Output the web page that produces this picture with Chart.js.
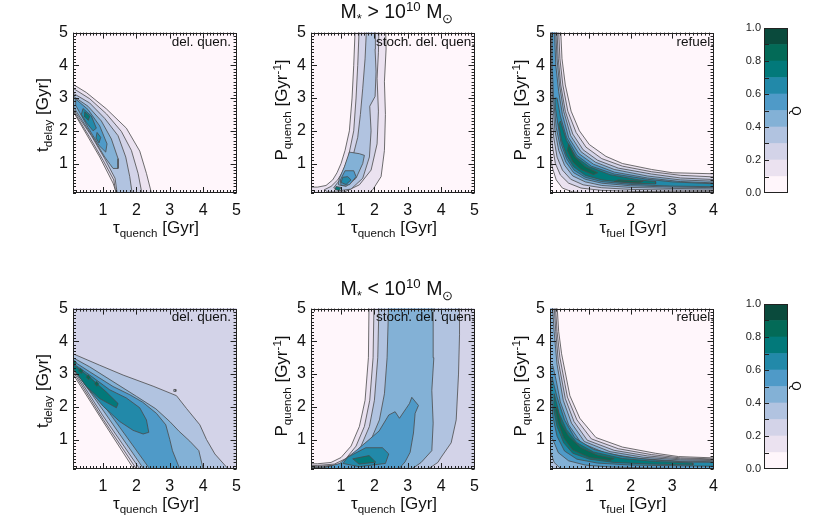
<!DOCTYPE html>
<html>
<head>
<meta charset="utf-8">
<script src="https://cdn.jsdelivr.net/npm/chart.js@4.4.1/dist/chart.umd.min.js"></script>
<style>
  body { margin: 0; background: #fff; width: 830px; height: 524px; position: relative; overflow: hidden;
         font-family: "Liberation Sans", Arial, sans-serif; color: #111; }
  canvas { position: absolute; }
  .lbl { position: absolute; white-space: nowrap; line-height: 1; }
  .c { transform: translate(-50%, -50%); }
  .r { transform: translate(-100%, -50%); }
  .rot { transform: translate(-50%, -50%) rotate(-90deg); }
  .rot90 { transform: translate(-50%, -50%) rotate(90deg); }
  .sb { font-size: 68%; position: relative; top: 0.38em; }
  .sp { font-size: 68%; position: relative; top: -0.55em; }
  .title { font-size: 19.5px; }
  .ax { font-size: 17px; }
  .tag { font-size: 13.5px; }
</style>
</head>
<body>
<canvas id="p1" width="220" height="209" style="left:29px;top:18px"></canvas>
<canvas id="p2" width="220" height="209" style="left:267px;top:18px"></canvas>
<canvas id="p3" width="220" height="209" style="left:506px;top:18px"></canvas>
<canvas id="p4" width="220" height="209" style="left:29px;top:294px"></canvas>
<canvas id="p5" width="220" height="209" style="left:267px;top:294px"></canvas>
<canvas id="p6" width="220" height="209" style="left:506px;top:294px"></canvas>
<canvas id="cb1" width="58" height="185" style="left:734px;top:18px"></canvas>
<canvas id="cb2" width="58" height="185" style="left:734px;top:294px"></canvas>

<div class="lbl c title" style="left:397px;top:12px">M<span class="sb">*</span> &gt; 10<span class="sp">10</span> M<span class="sb">⊙</span></div>
<div class="lbl c title" style="left:397px;top:289px">M<span class="sb">*</span> &lt; 10<span class="sp">10</span> M<span class="sb">⊙</span></div>

<div class="lbl c ax" style="left:156px;top:227px">τ<span class="sb">quench</span> [Gyr]</div>
<div class="lbl c ax" style="left:394px;top:227px">τ<span class="sb">quench</span> [Gyr]</div>
<div class="lbl c ax" style="left:633px;top:227px">τ<span class="sb">fuel</span> [Gyr]</div>
<div class="lbl c ax" style="left:156px;top:503px">τ<span class="sb">quench</span> [Gyr]</div>
<div class="lbl c ax" style="left:394px;top:503px">τ<span class="sb">quench</span> [Gyr]</div>
<div class="lbl c ax" style="left:633px;top:503px">τ<span class="sb">fuel</span> [Gyr]</div>

<div class="lbl rot ax" style="left:42px;top:115px">t<span class="sb">delay</span> [Gyr]</div>
<div class="lbl rot ax" style="left:281px;top:110px">P<span class="sb">quench</span> [Gyr<span class="sp">-1</span>]</div>
<div class="lbl rot ax" style="left:520px;top:110px">P<span class="sb">quench</span> [Gyr<span class="sp">-1</span>]</div>
<div class="lbl rot ax" style="left:42px;top:391px">t<span class="sb">delay</span> [Gyr]</div>
<div class="lbl rot ax" style="left:281px;top:386px">P<span class="sb">quench</span> [Gyr<span class="sp">-1</span>]</div>
<div class="lbl rot ax" style="left:520px;top:386px">P<span class="sb">quench</span> [Gyr<span class="sp">-1</span>]</div>

<div class="lbl r tag" style="left:231px;top:42px">del. quen.</div>
<div class="lbl r tag" style="left:475px;top:42px">stoch. del. quen.</div>
<div class="lbl r tag" style="left:714px;top:42px">refuel.</div>
<div class="lbl r tag" style="left:231px;top:317px">del. quen.</div>
<div class="lbl r tag" style="left:475px;top:317px">stoch. del. quen.</div>
<div class="lbl r tag" style="left:714px;top:317px">refuel.</div>

<div class="lbl rot90" style="left:796px;top:111px;font-size:12px">Q</div>
<div class="lbl rot90" style="left:796px;top:386px;font-size:12px">Q</div>

<script>
// colour of each Q level, 0.0-0.1 ... 0.9-1.0
const levelColors = ['#fff6fb', '#ebe2f0', '#d3d3e8', '#b1c3e0', '#83b1d6',
                     '#4f9ac8', '#2289a9', '#02797a', '#036a57', '#0a4a3c'];
const axisTicks = [1, 2, 3, 4, 5];
const fuelTicks = [1, 2, 3, 4];
const colorbarTicks = [0, 0.2, 0.4, 0.6, 0.8, 1.0];
const colorbarBands = [0.1, 0.1, 0.1, 0.1, 0.1, 0.1, 0.1, 0.1, 0.1, 0.1];

// contour polygons: [level, [[x, y], ...]]
// M* > 1e10, delayed quenching (tau_quench, t_delay)
const delayHi = [
  [1, [[-0.1,3.47],[0.1,3.42],[0.5,3.17],[1.1,2.67],[1.7,2.08],[2.1,1.38],[2.3,0.7],[2.45,0.1],[2.5,-0.1],[1.35,-0.1],[1.4,0.1],[1.3,0.4],[0.9,1.2],[0.5,1.9],[0.1,2.6],[-0.1,2.65]]],
  [2, [[-0.1,3.35],[0.1,3.3],[0.6,2.98],[1.1,2.52],[1.55,1.98],[1.85,1.4],[2.05,0.7],[2.2,-0.1],[1.42,-0.1],[1.32,0.5],[1.0,1.1],[0.6,1.8],[0.1,2.63],[-0.1,2.66]]],
  [3, [[-0.1,3.2],[0.1,3.15],[0.6,2.85],[1.05,2.38],[1.45,1.85],[1.68,1.2],[1.8,0.6],[1.9,-0.1],[1.45,-0.1],[1.36,0.55],[1.05,1.15],[0.65,1.85],[0.1,2.67],[-0.1,2.7]]],
  [4, [[0.12,3.05],[0.55,2.75],[0.95,2.3],[1.25,1.75],[1.45,1.15],[1.45,0.85],[1.3,0.85],[1.05,1.2],[0.65,1.88],[0.12,2.72]]],
  [5, [[0.18,2.97],[0.55,2.65],[0.9,2.15],[1.12,1.6],[1.08,1.35],[0.88,1.55],[0.55,2.1],[0.18,2.78]]],
  [6, [[0.4,2.68],[0.65,2.45],[0.8,2.08],[0.7,2.0],[0.5,2.25],[0.35,2.5]]],
  [6, [[0.82,1.95],[0.93,1.8],[0.88,1.63],[0.79,1.78]]],
  [7, [[0.45,2.58],[0.6,2.45],[0.56,2.32],[0.43,2.45]]]
];

// M* > 1e10, stochastic delayed quenching (tau_quench, P_quench)
const stochHi = [
  [1, [[1.43,5.3],[1.38,4.0],[1.33,3.0],[1.25,2.0],[1.12,1.4],[1.0,1.0],[0.88,0.72],[0.75,0.5],[0.55,0.33],[0.3,0.28],[-0.1,0.28],[-0.1,-0.1],[1.6,-0.1],[1.95,0.2],[2.2,0.6],[2.3,1.4],[2.33,2.5],[2.3,3.5],[2.35,4.5],[2.33,5.3]]],
  [2, [[1.55,5.3],[1.5,4.0],[1.45,3.0],[1.38,2.0],[1.22,1.2],[1.05,0.75],[0.9,0.5],[0.7,0.3],[0.5,0.2],[0.6,0.13],[1.1,0.13],[1.55,0.35],[1.9,0.8],[2.08,1.6],[2.12,2.6],[2.08,3.6],[2.12,4.4],[2.14,5.3]]],
  [3, [[1.77,5.3],[1.72,4.2],[1.65,3.3],[1.58,2.5],[1.5,1.8],[1.35,1.2],[1.12,0.72],[0.9,0.42],[0.78,0.26],[0.95,0.17],[1.3,0.22],[1.65,0.55],[1.85,1.2],[1.9,2.0],[1.86,2.75],[2.02,3.05],[2.05,3.8],[2.02,4.5],[2.03,5.3]]],
  [4, [[1.25,1.35],[1.1,0.9],[0.95,0.55],[0.92,0.35],[1.15,0.3],[1.45,0.55],[1.65,1.0],[1.7,1.25],[1.55,1.3]]],
  [5, [[1.12,0.78],[0.98,0.5],[1.0,0.33],[1.25,0.35],[1.45,0.6],[1.38,0.78]]],
  [6, [[1.05,0.58],[1.0,0.42],[1.15,0.36],[1.3,0.5],[1.2,0.6]]],
  [7, [[0.85,0.3],[0.82,0.2],[0.95,0.18],[1.0,0.27]]]
];

// M* > 1e10, refuelling (tau_fuel, P_quench)
const refuelHi = [
  [1, [[0.30,5.3],[0.34,4.2],[0.42,3.4],[0.56,2.6],[0.76,2.0],[1.0,1.58],[1.4,1.22],[1.8,1.0],[2.5,0.82],[3.0,0.72],[4.2,0.68],[4.2,0.1],[2.0,0.09],[1.0,0.1],[0.6,0.13],[0.35,0.25],[0.2,0.5],[0.1,0.9],[0.05,1.4],[-0.1,1.5],[-0.1,5.3]]],
  [2, [[0.25,5.3],[0.29,4.2],[0.36,3.4],[0.48,2.6],[0.68,1.95],[0.92,1.5],[1.3,1.15],[1.8,0.92],[2.5,0.75],[3.2,0.64],[4.2,0.58],[4.2,0.14],[3.0,0.14],[2.0,0.15],[1.3,0.18],[0.8,0.25],[0.5,0.4],[0.3,0.65],[0.18,1.0],[0.1,1.6],[0.06,2.5],[0.04,5.3]]],
  [3, [[0.21,5.3],[0.25,4.2],[0.31,3.4],[0.42,2.6],[0.6,1.9],[0.85,1.42],[1.2,1.1],[1.7,0.86],[2.5,0.68],[3.2,0.56],[4.2,0.5],[4.2,0.18],[3.0,0.19],[2.0,0.21],[1.3,0.26],[0.85,0.35],[0.55,0.52],[0.35,0.8],[0.22,1.2],[0.14,1.8],[0.09,2.6],[0.07,3.5],[0.06,5.3]]],
  [4, [[0.18,5.3],[0.22,4.2],[0.28,3.4],[0.38,2.6],[0.55,1.85],[0.8,1.36],[1.15,1.04],[1.6,0.82],[2.4,0.62],[3.2,0.5],[4.2,0.45],[4.2,0.22],[3.0,0.24],[2.0,0.27],[1.3,0.33],[0.9,0.44],[0.6,0.62],[0.4,0.95],[0.26,1.4],[0.17,2.0],[0.12,2.8],[0.09,3.6],[0.08,5.3]]],
  [5, [[0.15,5.3],[0.19,4.0],[0.26,3.2],[0.35,2.5],[0.5,1.8],[0.75,1.3],[1.1,0.98],[1.6,0.74],[2.4,0.56],[3.2,0.45],[4.2,0.4],[4.2,0.26],[3.0,0.28],[2.0,0.32],[1.3,0.4],[0.9,0.52],[0.62,0.72],[0.43,1.05],[0.3,1.5],[0.2,2.1],[0.14,2.9],[0.11,3.8],[0.1,5.3]]],
  [6, [[0.22,3.0],[0.3,2.45],[0.45,1.8],[0.7,1.25],[1.05,0.92],[1.6,0.68],[2.4,0.52],[3.0,0.44],[4.2,0.37],[4.2,0.29],[3.0,0.31],[2.0,0.36],[1.3,0.45],[0.9,0.58],[0.63,0.8],[0.45,1.15],[0.32,1.6],[0.24,2.2],[0.18,2.7],[0.17,3.0]]],
  [7, [[0.3,2.3],[0.45,1.7],[0.68,1.2],[1.0,0.9],[1.5,0.66],[2.2,0.5],[2.6,0.45],[2.6,0.38],[2.0,0.4],[1.3,0.5],[0.9,0.64],[0.62,0.9],[0.45,1.25],[0.33,1.7],[0.26,2.2]]],
  [8, [[0.5,1.6],[0.65,1.2],[0.9,0.9],[1.2,0.72],[1.1,0.66],[0.8,0.82],[0.6,1.05],[0.47,1.4]]],
  [8, [[1.7,0.5],[2.3,0.46],[2.2,0.41],[1.6,0.45]]]
];

// M* < 1e10, delayed quenching
const delayLo = [
  [1, [[-0.1,3.0],[0.1,3.0],[1.0,1.55],[1.92,0.1],[1.92,-0.1],[5.3,-0.1],[5.3,5.3],[-0.1,5.3]]],
  [1, [[-0.1,3.04],[0.1,3.04],[1.0,1.59],[1.96,0.1],[1.96,-0.1],[5.3,-0.1],[5.3,5.3],[-0.1,5.3]]],
  [2, [[-0.1,3.08],[0.1,3.08],[1.0,1.62],[2.0,0.1],[2.0,-0.1],[5.3,-0.1],[5.3,5.3],[-0.1,5.3]]],
  [2, [[-0.1,3.12],[0.1,3.12],[1.0,1.67],[2.05,0.1],[2.05,-0.1],[5.3,-0.1],[5.3,5.3],[-0.1,5.3]]],
  [3, [[-0.1,3.68],[0.1,3.62],[0.9,3.27],[1.6,2.97],[2.5,2.63],[3.2,2.34],[3.5,1.95],[3.9,1.45],[4.1,1.0],[4.35,0.56],[4.75,0.1],[4.85,-0.1],[2.1,-0.1],[2.1,0.1],[1.0,1.72],[0.1,3.15],[-0.1,3.15]]],
  [3, [[3.12,2.53],[3.18,2.53],[3.18,2.47],[3.12,2.47]]],
  [4, [[-0.1,3.52],[0.1,3.5],[0.6,3.22],[1.3,2.77],[2.0,2.32],[2.58,1.94],[3.0,1.55],[3.28,1.25],[3.6,0.95],[3.87,0.66],[4.0,0.1],[4.0,-0.1],[2.22,-0.1],[2.22,0.1],[1.1,1.75],[0.1,3.2],[-0.1,3.2]]],
  [5, [[-0.1,3.42],[0.1,3.4],[0.6,3.07],[1.3,2.62],[1.8,2.37],[2.19,2.14],[2.6,1.8],[2.88,1.45],[3.0,1.0],[3.08,0.66],[3.3,0.1],[3.33,-0.1],[2.4,-0.1],[2.4,0.1],[1.2,1.8],[0.1,3.25],[-0.1,3.25]]],
  [6, [[0.05,3.36],[0.6,2.97],[1.2,2.52],[1.7,2.27],[2.1,1.97],[2.3,1.6],[2.37,1.22],[2.2,1.17],[1.9,1.28],[1.5,1.55],[1.0,2.02],[0.5,2.62],[0.05,3.28]]],
  [7, [[0.1,3.3],[0.6,2.9],[1.1,2.45],[1.45,2.1],[1.4,1.97],[0.9,2.25],[0.5,2.62],[0.1,3.17]]],
  [8, [[0.12,3.42],[0.2,3.36],[0.15,3.28],[0.08,3.34]]],
  [8, [[0.32,3.18],[0.4,3.1],[0.35,3.02],[0.27,3.1]]],
  [8, [[0.55,2.98],[0.62,2.9],[0.57,2.83],[0.5,2.9]]],
  [8, [[0.8,2.78],[0.87,2.7],[0.82,2.63],[0.75,2.7]]]
];

// M* < 1e10, stochastic delayed quenching
const stochLo = [
  [1, [[1.84,5.3],[1.82,3.5],[1.72,2.2],[1.55,1.4],[1.3,0.8],[1.0,0.45],[0.7,0.3],[0.3,0.26],[-0.1,0.26],[-0.1,-0.1],[5.3,-0.1],[5.3,5.3]]],
  [2, [[1.99,5.3],[1.96,3.5],[1.86,2.2],[1.7,1.4],[1.45,0.8],[1.15,0.42],[0.8,0.25],[0.3,0.21],[-0.1,0.21],[-0.1,-0.1],[5.3,-0.1],[5.3,5.3]]],
  [3, [[2.14,5.3],[2.1,3.5],[2.0,2.2],[1.85,1.4],[1.6,0.8],[1.3,0.42],[0.9,0.22],[0.3,0.18],[-0.1,0.18],[-0.1,-0.1],[3.55,-0.1],[3.61,0.1],[3.9,0.3],[4.0,0.46],[4.3,0.9],[4.45,1.6],[4.52,3.0],[4.55,4.2],[4.55,5.3]]],
  [4, [[2.43,5.3],[2.38,3.5],[2.3,2.4],[2.15,1.6],[1.9,1.0],[1.6,0.6],[1.2,0.32],[0.8,0.2],[0.3,0.15],[-0.1,0.15],[-0.1,-0.1],[3.1,-0.1],[3.12,0.1],[3.4,0.3],[3.72,0.66],[3.76,1.5],[3.72,2.5],[3.78,3.5],[3.76,5.3]]],
  [5, [[-0.1,0.12],[0.5,0.14],[0.96,0.27],[1.5,0.7],[2.14,1.26],[2.43,1.75],[2.62,1.85],[2.75,1.65],[2.95,1.95],[3.05,2.1],[3.12,2.29],[3.32,2.04],[3.22,1.8],[3.17,1.2],[3.07,0.61],[2.92,0.32],[2.73,0.1],[2.7,-0.1],[-0.1,-0.1]]],
  [6, [[1.06,0.27],[1.2,0.46],[1.74,0.75],[2.24,0.75],[2.43,0.56],[2.33,0.27],[1.54,0.17]]],
  [7, [[1.35,0.41],[1.84,0.51],[2.04,0.31],[1.54,0.25]]]
];

// M* < 1e10, refuelling
const refuelLo = [
  [1, [[0.21,5.3],[0.26,4.3],[0.33,3.62],[0.53,2.34],[0.77,1.65],[1.16,1.06],[1.8,0.77],[2.6,0.58],[3.15,0.48],[4.2,0.43],[4.2,-0.1],[-0.1,-0.1],[-0.1,5.3]]],
  [2, [[0.17,5.3],[0.22,4.3],[0.29,3.5],[0.47,2.3],[0.7,1.6],[1.05,1.02],[1.7,0.72],[2.5,0.54],[3.2,0.44],[4.2,0.4],[4.2,-0.1],[-0.1,-0.1],[-0.1,5.3]]],
  [3, [[0.14,5.3],[0.19,4.3],[0.25,3.4],[0.42,2.25],[0.63,1.55],[0.95,0.98],[1.6,0.67],[2.4,0.5],[3.2,0.41],[4.2,0.38],[4.2,-0.1],[-0.1,-0.1],[-0.1,5.3]]],
  [4, [[0.1,5.3],[0.15,4.3],[0.22,3.3],[0.37,2.2],[0.57,1.5],[0.88,0.94],[1.5,0.63],[2.3,0.46],[3.2,0.38],[4.2,0.35],[4.2,-0.1],[0.5,-0.1],[0.3,0.12],[0.15,0.3],[0.07,0.6],[-0.1,0.8],[-0.1,5.3]]],
  [5, [[-0.1,3.2],[0.06,3.2],[0.12,3.25],[0.2,2.8],[0.3,2.15],[0.5,1.45],[0.8,0.9],[1.4,0.58],[2.2,0.42],[3.2,0.34],[4.2,0.32],[4.2,0.1],[2.5,0.13],[1.5,0.16],[0.9,0.22],[0.5,0.35],[0.25,0.6],[0.12,1.0],[-0.1,1.2]]],
  [6, [[0.1,2.9],[0.22,2.3],[0.4,1.6],[0.65,1.05],[1.1,0.7],[1.8,0.48],[2.6,0.37],[3.4,0.31],[4.2,0.3],[4.2,0.18],[3.0,0.2],[2.0,0.22],[1.2,0.28],[0.7,0.4],[0.4,0.65],[0.22,1.1],[0.12,1.7],[0.07,2.5]]],
  [7, [[0.15,2.4],[0.27,1.8],[0.45,1.3],[0.7,0.9],[1.1,0.62],[1.8,0.42],[2.6,0.33],[3.5,0.28],[3.5,0.22],[2.5,0.25],[1.6,0.3],[1.0,0.4],[0.6,0.58],[0.38,0.9],[0.22,1.4],[0.14,1.9]]],
  [8, [[0.22,2.0],[0.32,1.5],[0.5,1.1],[0.8,0.75],[1.2,0.52],[1.6,0.42],[1.5,0.36],[1.0,0.45],[0.6,0.68],[0.38,1.05],[0.25,1.5],[0.18,1.9]]]
];

const FONT = '"Liberation Sans", Arial, sans-serif';

// background, frame and inward IDL-style ticks on all four sides
const frameTicks = {
  id: 'frameTicks',
  beforeDatasetsDraw(chart) {
    const a = chart.chartArea, ctx = chart.ctx;
    ctx.save();
    ctx.fillStyle = levelColors[0];
    ctx.fillRect(a.left, a.top, a.width, a.height);
    ctx.restore();
  },
  afterDatasetsDraw(chart) {
    const { ctx, chartArea: a, scales } = chart;
    const x = scales.x, y = scales.y;
    ctx.save();
    ctx.strokeStyle = '#222';
    ctx.lineWidth = 1;
    ctx.beginPath();
    const tickX = (v, len) => {
      const px = Math.round(x.getPixelForValue(v)) + 0.5;
      ctx.moveTo(px, a.bottom); ctx.lineTo(px, a.bottom - len);
      ctx.moveTo(px, a.top); ctx.lineTo(px, a.top + len);
    };
    const tickY = (v, len) => {
      const py = Math.round(y.getPixelForValue(v)) + 0.5;
      ctx.moveTo(a.left, py); ctx.lineTo(a.left + len, py);
      ctx.moveTo(a.right, py); ctx.lineTo(a.right - len, py);
    };
    for (let k = 1; k * 0.1 < x.max; k++) tickX(k * 0.1, k % 10 === 0 ? 6 : 3);
    for (let k = 1; k * 0.1 < y.max; k++) tickY(k * 0.1, k % 10 === 0 ? 6 : 3);
    ctx.stroke();
    ctx.strokeRect(Math.round(a.left) + 0.5, Math.round(a.top) + 0.5,
                   Math.round(a.width) - 1, Math.round(a.height) - 1);
    ctx.restore();
  }
};

function makePanel(id, contours, xMax, xTicks) {
  const datasets = contours.map(([level, pts]) => ({
    data: pts.concat([pts[0]]).map(p => ({ x: p[0], y: p[1] })),
    showLine: true,
    fill: 'shape',
    backgroundColor: levelColors[level],
    borderColor: '#4a4a4a',
    borderWidth: 0.8,
    pointRadius: 0,
    tension: 0,
    order: 100 - level
  }));
  const tickFont = { family: FONT, size: 16 };
  new Chart(document.getElementById(id), {
    type: 'scatter',
    data: { datasets },
    plugins: [frameTicks],
    options: {
      responsive: false,
      animation: false,
      devicePixelRatio: 1,
      layout: { padding: { top: 10, right: 10, left: 0, bottom: 0 } },
      plugins: { legend: { display: false }, tooltip: { enabled: false } },
      scales: {
        x: {
          type: 'linear', min: xMax === 4 ? 0.05 : 0.1, max: xMax,
          grid: { display: false, drawTicks: false }, border: { display: false },
          afterBuildTicks: s => { s.ticks = xTicks.map(v => ({ value: v })); },
          afterFit: s => { s.height = 34; },
          ticks: { font: tickFont, color: '#111', padding: 8, maxRotation: 0, autoSkip: false }
        },
        y: {
          type: 'linear', min: 0.1, max: 5,
          grid: { display: false, drawTicks: false }, border: { display: false },
          afterBuildTicks: s => { s.ticks = axisTicks.map(v => ({ value: v })); },
          afterFit: s => { s.width = 44; },
          ticks: { font: tickFont, color: '#111', padding: 5, autoSkip: false }
        }
      }
    }
  });
}

const colorbarFrame = {
  id: 'colorbarFrame',
  afterDatasetsDraw(chart) {
    const { ctx, chartArea: a, scales } = chart;
    const y = scales.y;
    ctx.save();
    ctx.strokeStyle = '#222';
    ctx.lineWidth = 1;
    ctx.beginPath();
    for (let k = 1; k < 10; k++) {
      const py = Math.round(y.getPixelForValue(k / 10)) + 0.5;
      ctx.moveTo(a.left, py); ctx.lineTo(a.left + 5, py);
    }
    ctx.stroke();
    ctx.strokeRect(Math.round(a.left) + 0.5, Math.round(a.top) + 0.5,
                   Math.round(a.width) - 1, Math.round(a.height) - 1);
    ctx.restore();
  }
};

function makeColorbar(id) {
  new Chart(document.getElementById(id), {
    type: 'bar',
    data: {
      labels: ['Q'],
      datasets: colorbarBands.map((v, i) => ({
        data: [v], backgroundColor: levelColors[i], borderWidth: 0,
        barPercentage: 1, categoryPercentage: 1
      }))
    },
    plugins: [colorbarFrame],
    options: {
      responsive: false,
      animation: false,
      devicePixelRatio: 1,
      layout: { padding: { top: 10, right: 4, left: 0, bottom: 10 } },
      plugins: { legend: { display: false }, tooltip: { enabled: false } },
      scales: {
        x: { display: false, stacked: true },
        y: {
          stacked: true, min: 0, max: 1,
          grid: { display: false, drawTicks: false }, border: { display: false },
          afterBuildTicks: s => { s.ticks = colorbarTicks.map(v => ({ value: v })); },
          afterFit: s => { s.width = 30; },
          ticks: { font: { family: FONT, size: 11 }, color: '#222', padding: 3,
                   callback: v => v.toFixed(1) }
        }
      }
    }
  });
}

makePanel('p1', delayHi, 5, axisTicks);
makePanel('p2', stochHi, 5, axisTicks);
makePanel('p3', refuelHi, 4, fuelTicks);
makePanel('p4', delayLo, 5, axisTicks);
makePanel('p5', stochLo, 5, axisTicks);
makePanel('p6', refuelLo, 4, fuelTicks);
makeColorbar('cb1');
makeColorbar('cb2');
</script>
</body>
</html>
